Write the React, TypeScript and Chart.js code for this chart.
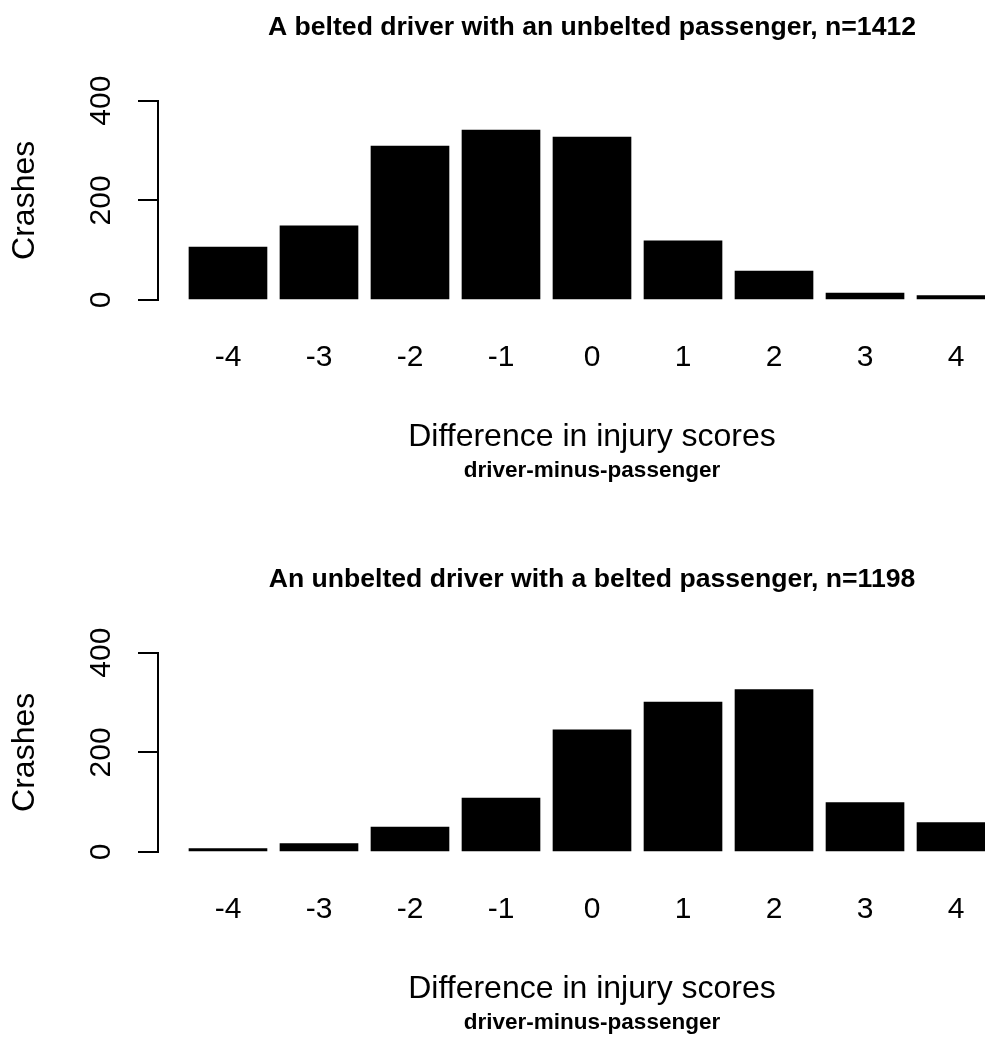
import React, { useEffect, useRef } from 'react';
import { Chart, registerables } from 'chart.js';

Chart.register(...registerables);

// ---- data ----
const scores = [-4, -3, -2, -1, 0, 1, 2, 3, 4];
const scoreLabels = ['-4', '-3', '-2', '-1', '0', '1', '2', '3', '4'];
const beltedDriverCrashes = [106, 149, 309, 341, 327, 119, 58, 14, 9];
const unbeltedDriverCrashes = [7, 17, 50, 108, 245, 301, 326, 99, 59];
const yTicks = [0, 100, 200, 300, 400];
const yTickLabels = ['0', '', '200', '', '400'];
const panelTitles = [
  'A belted driver with an unbelted passenger, n=1412',
  'An unbelted driver with a belted passenger, n=1198',
];
const xAxisTitle = 'Difference in injury scores';
const xAxisSubtitle = 'driver-minus-passenger';
const yAxisTitle = 'Crashes';

const FONT = '"Liberation Sans", Arial, Helvetica, sans-serif';
const CANVAS_W = 1026;
const CANVAS_H = 551;

function BarPanel({ title, values, top }: { title: string; values: number[]; top: number }) {
  const ref = useRef<HTMLCanvasElement>(null);
  useEffect(() => {
    const chart = new Chart(ref.current as HTMLCanvasElement, {
      type: 'bar',
      data: {
        datasets: [
          {
            data: scores.map((s, i) => ({ x: s, y: values[i] })),
            backgroundColor: '#000000',
            borderColor: '#000000',
            borderWidth: 0,
            barThickness: 78,
          },
        ],
      },
      options: {
        animation: false,
        responsive: false,
        maintainAspectRatio: false,
        devicePixelRatio: 1,
        layout: { padding: 0 },
        plugins: {
          legend: { display: false },
          tooltip: { enabled: false },
          title: {
            display: true,
            text: title,
            fullSize: false,
            color: '#000',
            font: { family: FONT, size: 26.6, weight: 'bold', lineHeight: 1.2 },
            padding: { top: 11.54, bottom: 57.24 },
          },
          subtitle: {
            display: true,
            position: 'bottom',
            text: xAxisSubtitle,
            fullSize: false,
            color: '#000',
            font: { family: FONT, size: 22.5, weight: 'bold', lineHeight: 1.2 },
            padding: { top: 1.1, bottom: 66.7 },
          },
        },
        scales: {
          x: {
            type: 'linear',
            min: -4.769,
            max: 4.769,
            offset: false,
            grid: { display: false, drawTicks: false, offset: false },
            border: { display: false },
            afterBuildTicks: (s: any) => {
              s.ticks = scores.map((v) => ({ value: v }));
            },
            ticks: {
              autoSkip: false,
              minRotation: 0,
              maxRotation: 0,
              padding: 40,
              color: '#000',
              font: { family: FONT, size: 30, lineHeight: 1.2 },
              callback: (v: any) => {
                const i = scores.indexOf(Number(v));
                return i >= 0 ? scoreLabels[i] : '';
              },
            },
            title: {
              display: true,
              text: xAxisTitle,
              color: '#000',
              font: { family: FONT, size: 32, lineHeight: 1.2 },
              padding: { top: 0, bottom: 0 },
            },
            afterFit: (s: any) => {
              s.height = 156.2;
            },
          },
          y: {
            min: 0,
            max: 400,
            grid: { drawOnChartArea: false, drawTicks: true, tickLength: 20, color: '#000', lineWidth: 2 },
            border: { display: true, color: '#000', width: 2 },
            afterBuildTicks: (s: any) => {
              s.ticks = yTicks.map((v) => ({ value: v }));
            },
            ticks: {
              minRotation: 90,
              maxRotation: 90,
              crossAlign: 'center',
              padding: 11,
              color: '#000',
              font: { family: FONT, size: 30, lineHeight: 1.2 },
              callback: (v: any) => {
                const i = yTicks.indexOf(Number(v));
                return i >= 0 ? yTickLabels[i] : '';
              },
            },
            title: {
              display: true,
              text: yAxisTitle,
              color: '#000',
              font: { family: FONT, size: 32, lineHeight: 1.2 },
              padding: { top: 5.5, bottom: 0 },
            },
            afterFit: (s: any) => {
              s.width = 158;
            },
          },
        },
      } as any,
    });
    return () => chart.destroy();
  }, [title, values]);
  return (
    <canvas
      ref={ref}
      width={CANVAS_W}
      height={CANVAS_H}
      style={{ position: 'absolute', left: 0, top, width: CANVAS_W, height: CANVAS_H, display: 'block' }}
    />
  );
}

export default function App() {
  return (
    <div
      style={{
        position: 'fixed',
        left: 0,
        top: 0,
        width: 985,
        height: 1041,
        overflow: 'hidden',
        background: '#ffffff',
      }}
    >
      <BarPanel title={panelTitles[0]} values={beltedDriverCrashes} top={0} />
      <BarPanel title={panelTitles[1]} values={unbeltedDriverCrashes} top={552} />
    </div>
  );
}
